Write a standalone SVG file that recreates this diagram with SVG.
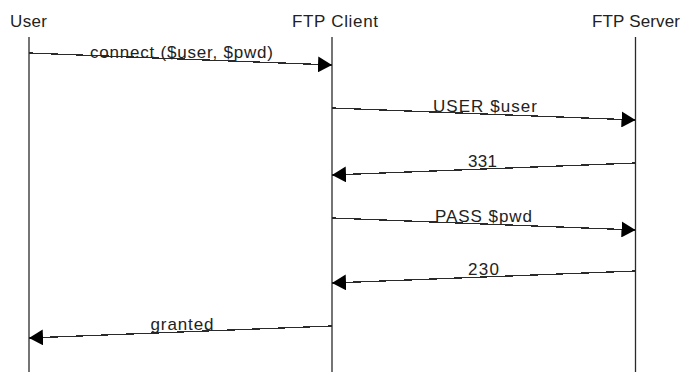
<svg xmlns="http://www.w3.org/2000/svg" width="684" height="372" viewBox="0 0 684 372">
  <style>
    .lbl { font-family: "Liberation Sans", Arial, sans-serif; font-size: 17px; fill: #222; text-anchor: middle; }
    .life { stroke: #2a2a2a; stroke-width: 1.3; fill: none; }
    .msg { stroke: #2a2a2a; stroke-width: 1.3; fill: none; shape-rendering: crispEdges; marker-end: url(#arr); }
  </style>
  <defs>
    <marker id="arr" markerWidth="15" markerHeight="16" refX="14" refY="8" orient="auto" markerUnits="userSpaceOnUse">
      <path d="M0,0 L14,8 L0,16 Z" fill="#000"/>
    </marker>
  </defs>
  <rect width="684" height="372" fill="#fff"/>

  <g id="user">
    <text class="lbl" x="28.5" y="27" textLength="37" lengthAdjust="spacing">User</text>
    <line class="life" x1="29" y1="37" x2="29" y2="372"/>
  </g>
  <g id="ftp-client">
    <text class="lbl" x="335" y="27" textLength="86" lengthAdjust="spacing">FTP Client</text>
    <line class="life" x1="332" y1="37" x2="332" y2="372"/>
  </g>
  <g id="ftp-server">
    <text class="lbl" x="636" y="27" textLength="88" lengthAdjust="spacing">FTP Server</text>
    <line class="life" x1="635.5" y1="37" x2="635.5" y2="372"/>
  </g>

  <g id="connectors">
    <line class="msg" x1="29" y1="53" x2="332" y2="65"/>
    <line class="msg" x1="332" y1="108" x2="635.5" y2="120"/>
    <line class="msg" x1="635.5" y1="163" x2="332" y2="175"/>
    <line class="msg" x1="332" y1="218" x2="635.5" y2="230"/>
    <line class="msg" x1="635.5" y1="271" x2="332" y2="283"/>
    <line class="msg" x1="332" y1="326" x2="29" y2="338"/>
  </g>

  <g id="labels">
    <text class="lbl" x="181.5" y="58" textLength="183" lengthAdjust="spacing">connect ($user, $pwd)</text>
    <text class="lbl" x="485" y="112" textLength="104" lengthAdjust="spacing">USER $user</text>
    <text class="lbl" x="482.5" y="166.5" textLength="29" lengthAdjust="spacing">331</text>
    <text class="lbl" x="483.5" y="221.5" textLength="97" lengthAdjust="spacing">PASS $pwd</text>
    <text class="lbl" x="483.5" y="275" textLength="31" lengthAdjust="spacing">230</text>
    <text class="lbl" x="182" y="330" textLength="63" lengthAdjust="spacing">granted</text>
  </g>
</svg>
